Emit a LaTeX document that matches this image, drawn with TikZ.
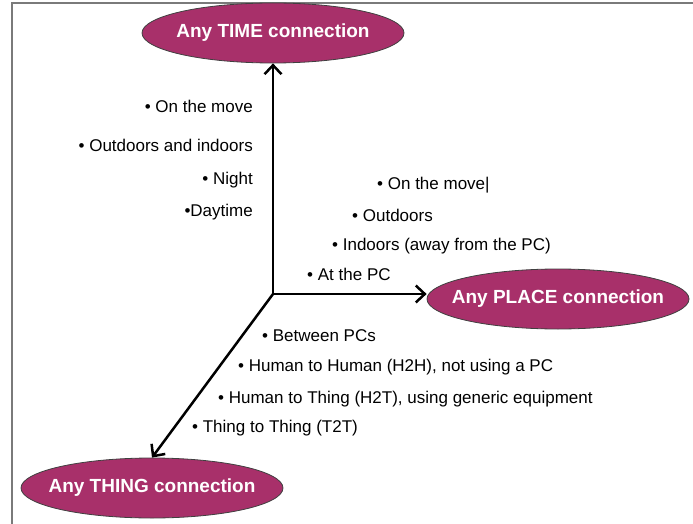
\documentclass[tikz,border=0pt]{standalone}
\usepackage{fontspec}
\setmainfont{Liberation Sans}
\usetikzlibrary{arrows.meta,positioning,shapes.geometric}
\definecolor{AnyMagenta}{HTML}{A8306A}
\definecolor{FrameGrey}{HTML}{7A7A7A}
\begin{document}
\begin{tikzpicture}[x=1pt,y=-1pt,
    anyconn/.style={ellipse, fill=AnyMagenta, draw=black!75, line width=0.8pt,
      minimum width=262pt, minimum height=60pt, inner xsep=-20pt, inner ysep=0pt,
      text=white, font=\fontsize{19}{21}\selectfont\bfseries},
    item/.style={font=\fontsize{17}{19}\selectfont, inner sep=0pt},
    axis/.style={line width=2.5pt, -{Straight Barb[length=9pt,width=17pt]}}]
  \useasboundingbox (0,0) rectangle (693,524);
  % frame
  \draw[FrameGrey, line width=1.6pt] (12,524) -- (12,3) -- (693,3);
  % the three ellipses
  \node[anyconn] (time)  at (273,33)  {Any TIME connection};
  \node[anyconn] (place) at (558,299) {Any PLACE connection};
  \node[anyconn] (thing) at (152,488) {Any THING connection};
  \coordinate (o) at (273,294);
  % axes
  \draw[axis] (o) -- (time);
  \draw[axis] (o) -- (o -| place.west);
  \draw[axis] (o) -- (thing.north);
  % time list
  \node[item, anchor=east] (t1) at (253,106) {\textbullet\ On the move};
  \node[item, anchor=east] (t2) at (253,145) {\textbullet\ Outdoors and indoors};
  \node[item, anchor=east] (t3) at (253,180) {\textbullet\ Night};
  \node[item, anchor=east] (t4) at (253,212) {\textbullet Daytime};
  % place list
  \node[item, anchor=west] (p1) at (377,185) {\textbullet\ On the move|};
  \node[item, anchor=west] (p2) at (352,215) {\textbullet\ Outdoors};
  \node[item, anchor=west] (p3) at (332,246) {\textbullet\ Indoors (away from the PC)};
  \node[item, anchor=west] (p4) at (307,274) {\textbullet\ At the PC};
  % thing list
  \node[item, anchor=west] (h1) at (262,336) {\textbullet\ Between PCs};
  \node[item, anchor=west] (h2) at (238,367) {\textbullet\ Human to Human (H2H), not using a PC};
  \node[item, anchor=west] (h3) at (218,399) {\textbullet\ Human to Thing (H2T), using generic equipment};
  \node[item, anchor=west] (h4) at (192,428) {\textbullet\ Thing to Thing (T2T)};
\end{tikzpicture}
\end{document}
